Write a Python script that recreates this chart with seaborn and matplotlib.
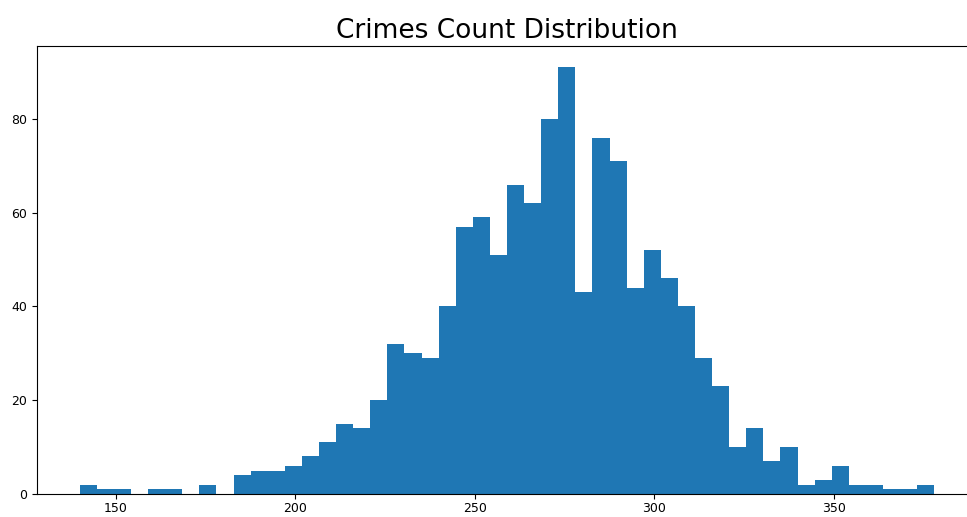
import numpy as np
import pandas as pd
import matplotlib
matplotlib.use("Agg")
import matplotlib.pyplot as plt
import seaborn as sns

# histogram counts, 50 equal bins between lo and hi
lo, hi = 140, 378
n_bins = 50
counts = [2, 1, 1, 0, 1, 1, 0, 2, 0, 4,
          5, 5, 6, 8, 11, 15, 14, 20, 32, 30,
          29, 40, 57, 59, 51, 66, 62, 80, 91, 43,
          76, 71, 44, 52, 46, 40, 29, 23, 10, 14,
          7, 10, 2, 3, 6, 2, 2, 1, 1, 2]
title = "Crimes Count Distribution"

edges = np.linspace(lo, hi, n_bins + 1)
df = pd.DataFrame({"crimes": (edges[:-1] + edges[1:]) / 2, "n": counts})

plt.rcParams['font.family'] = ['DejaVu Sans']
fig = plt.figure(figsize=(9.67, 5.17), dpi=100)
ax = fig.add_axes([37 / 967, 23 / 517, 940 / 967, 448 / 517])

sns.histplot(data=df, x="crimes", weights="n", bins=n_bins, binrange=(lo, hi), ax=ax,
             color="#1f77b4", alpha=1, edgecolor="none", linewidth=0)
ax.set_xlim(lo - 0.05 * (hi - lo), hi + 0.05 * (hi - lo))
ax.set_ylim(0, max(counts) * 1.05)
ax.set_xlabel("")
ax.set_ylabel("")
ax.set_title(title, fontsize=19)
ax.tick_params(labelsize=9)
ax.tick_params(axis="x", pad=2)

fig.savefig("out.png", dpi=100)
